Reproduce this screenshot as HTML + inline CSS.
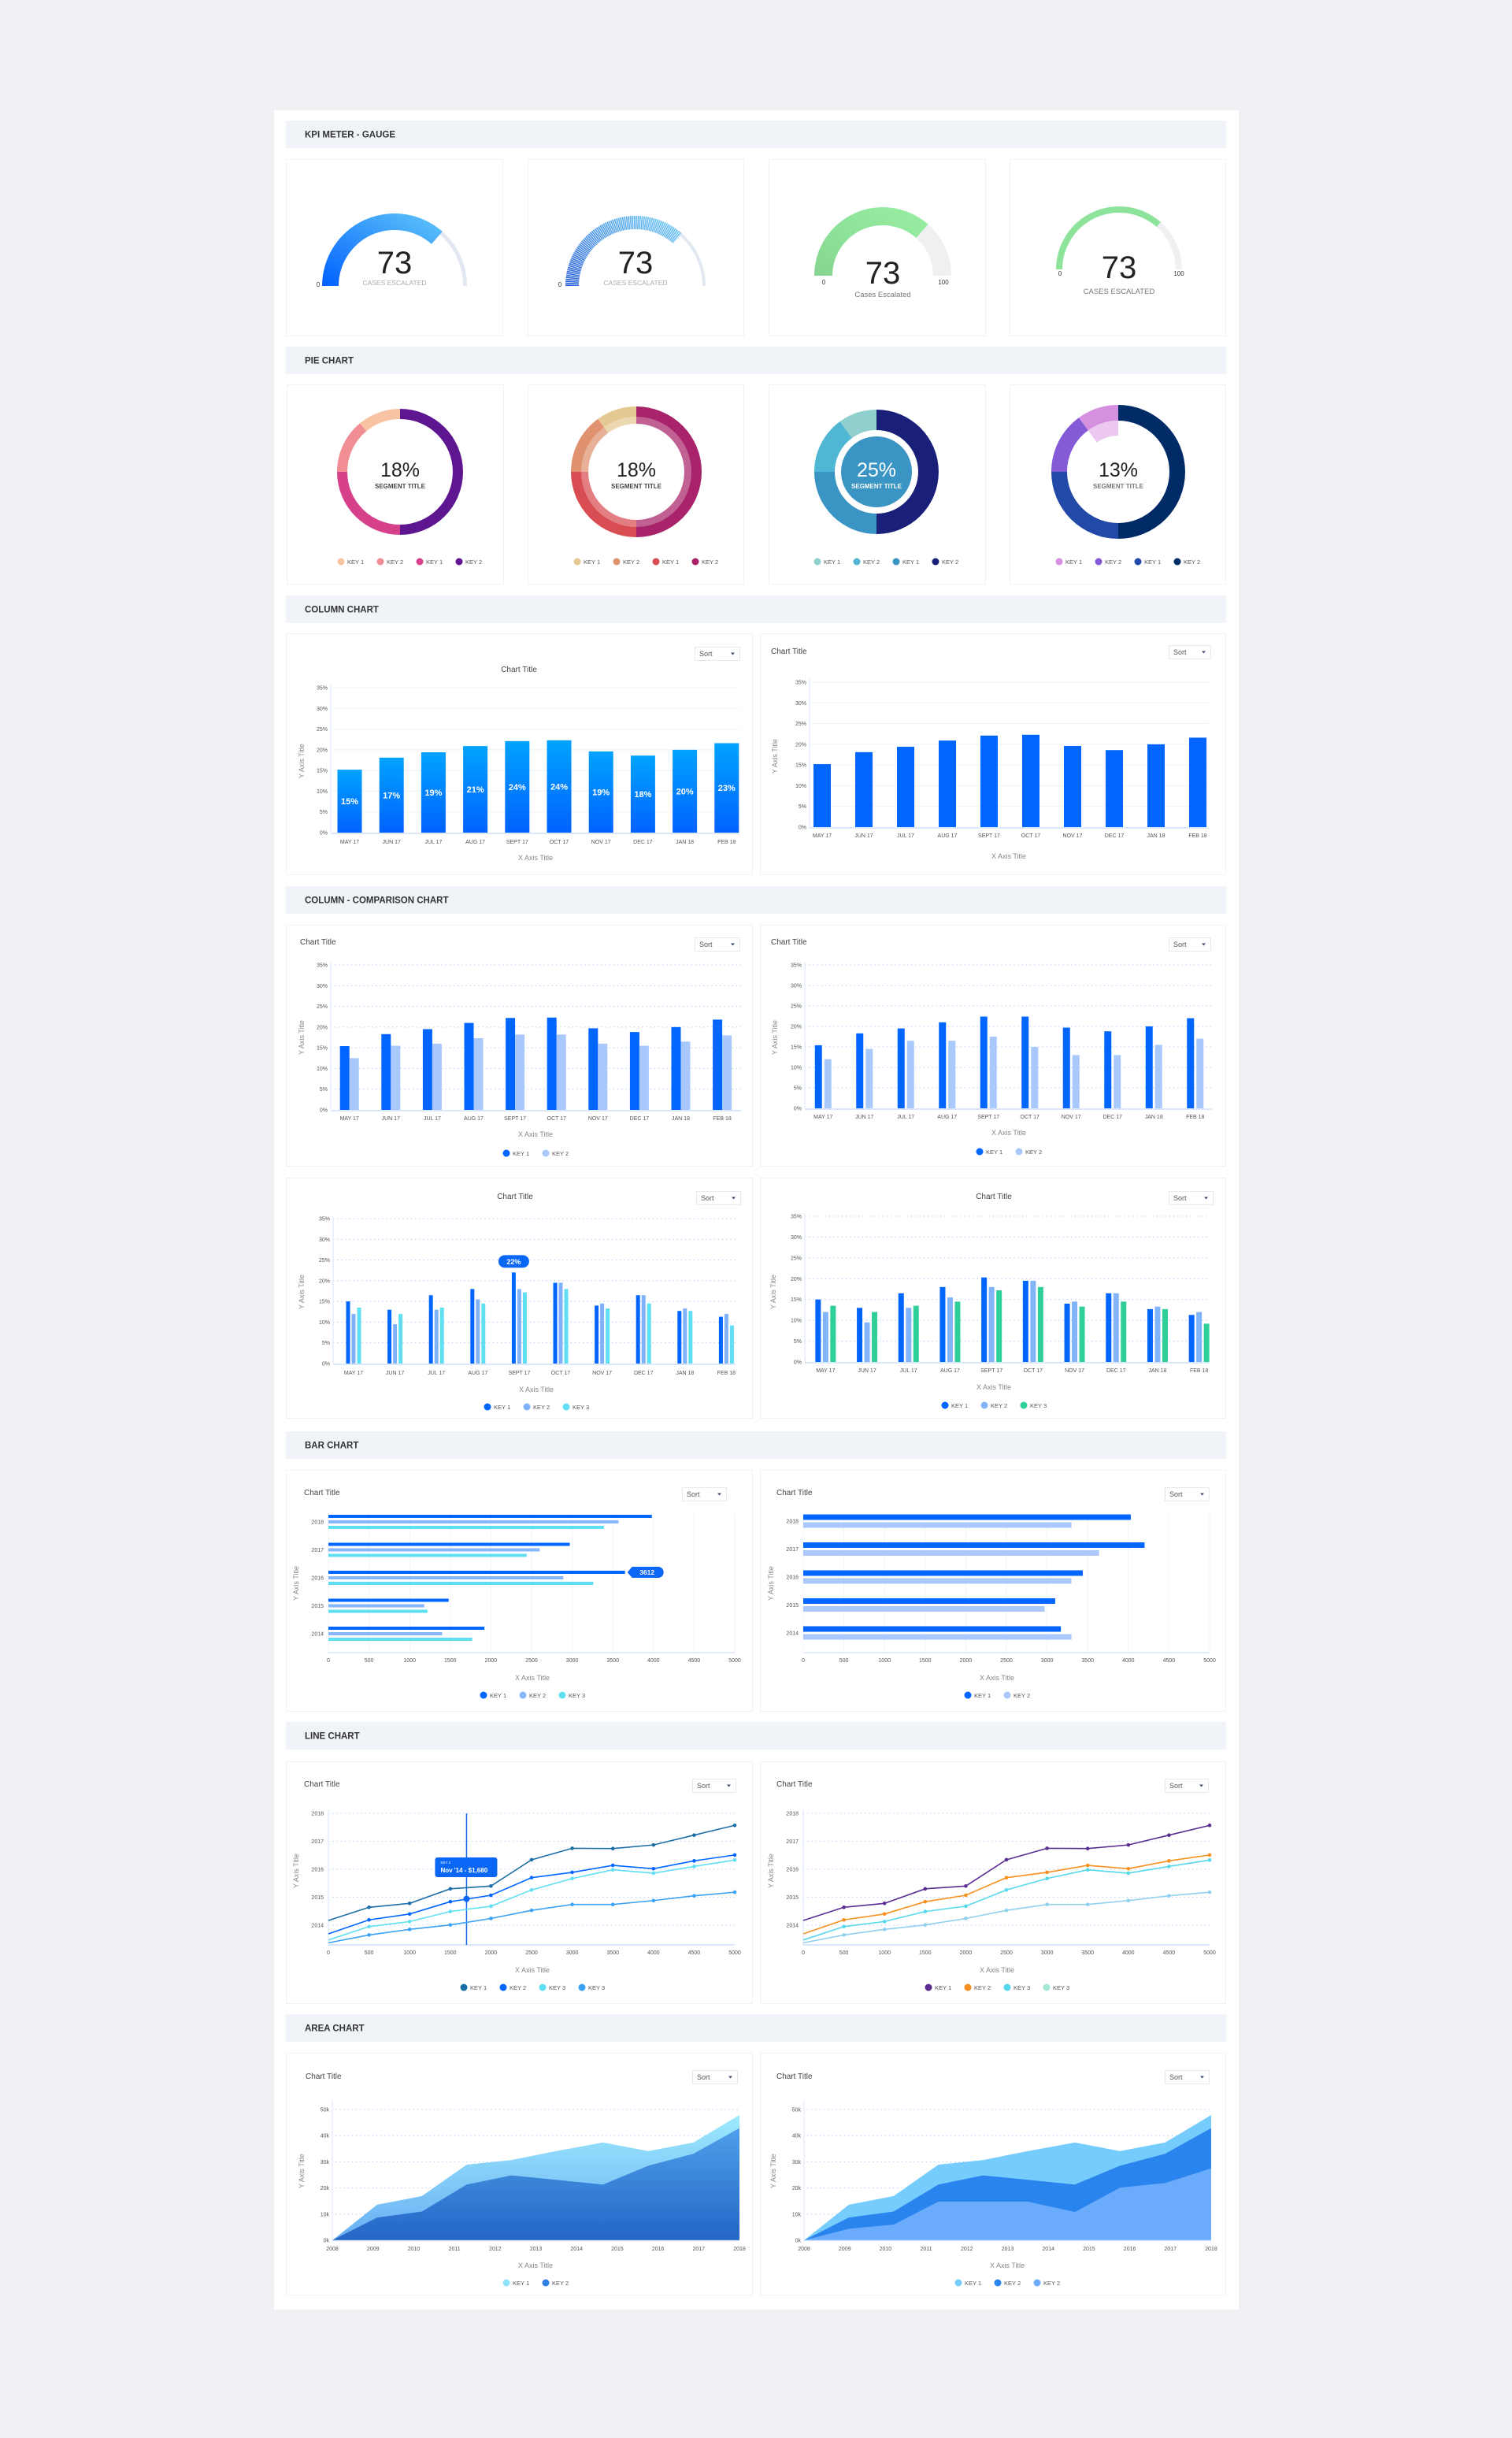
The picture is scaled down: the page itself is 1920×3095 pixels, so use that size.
<!DOCTYPE html>
<html><head><meta charset="utf-8"><title>Dashboard chart kit</title>
<style>
html,body{margin:0;padding:0;background:#eff1f5;}
svg{display:block;font-family:"Liberation Sans",sans-serif;}
</style></head>
<body>
<svg id="page" width="1920" height="3095" viewBox="0 0 1920 3095" xmlns="http://www.w3.org/2000/svg">
<defs>
<linearGradient id="gCol" x1="0" y1="0" x2="0" y2="1"><stop offset="0" stop-color="#00a3ff"/><stop offset="1" stop-color="#0062ff"/></linearGradient>
<linearGradient id="gG1" x1="0" y1="1" x2="1" y2="0"><stop offset="0" stop-color="#0060ff"/><stop offset="1" stop-color="#62c8f8"/></linearGradient>
<linearGradient id="gG2" x1="0" y1="1" x2="1" y2="0"><stop offset="0" stop-color="#2a62d6"/><stop offset="1" stop-color="#70c9f6"/></linearGradient>
<linearGradient id="gGreen" x1="0" y1="1" x2="1" y2="0"><stop offset="0" stop-color="#86d590"/><stop offset="1" stop-color="#98f0a3"/></linearGradient>
<linearGradient id="gA1" x1="0" y1="0" x2="0" y2="1"><stop offset="0" stop-color="#9deafd"/><stop offset="1" stop-color="#68aef3"/></linearGradient>
<linearGradient id="gA2" x1="0" y1="0" x2="0" y2="1"><stop offset="0" stop-color="#4e9fe9"/><stop offset="1" stop-color="#2466c6"/></linearGradient>
</defs>
<rect x="0" y="0" width="1920" height="3095" fill="#eff1f5"/>
<rect x="348" y="140" width="1225" height="2792" fill="#ffffff"/>
</svg>
<script>
const months = ['MAY 17','JUN 17','JUL 17','AUG 17','SEPT 17','OCT 17','NOV 17','DEC 17','JAN 18','FEB 18'];
const pctTicks = ['0%','5%','10%','15%','20%','25%','30%','35%'];
const colValues = [15.2,18.1,19.4,20.9,22.1,22.3,19.6,18.6,20.0,21.6];
const colLabels = ['15%','17%','19%','21%','24%','24%','19%','18%','20%','23%'];
const cmpA1 = [15.4,18.3,19.5,21.0,22.2,22.3,19.7,18.8,20.0,21.8];
const cmpA2 = [12.5,15.5,16.0,17.3,18.2,18.2,16.0,15.5,16.5,18.0];
const cmpB1 = [15.4,18.3,19.5,21.0,22.4,22.4,19.7,18.8,20.0,22.0];
const cmpB2 = [12.0,14.5,16.5,16.5,17.5,15.0,13.0,13.0,15.5,17.0];
const cmpC1 = [15.0,13.0,16.5,18.0,22.0,19.5,14.0,16.5,12.7,11.3];
const cmpC2 = [12.0,9.5,13.0,15.5,18.0,19.5,14.5,16.5,13.3,12.0];
const cmpC3 = [13.5,12.0,13.5,14.5,17.2,18.0,13.3,14.5,12.7,9.2];
const cmpD1 = [15.0,13.0,16.5,18.0,20.3,19.5,14.0,16.5,12.7,11.3];
const barYears = ['2018','2017','2016','2015','2014'];
const xTicks = ['0','500','1000','1500','2000','2500','3000','3500','4000','4500','5000'];
const barL1 = [3980,2970,3650,1480,1920];
const barL2 = [3570,2600,2890,1180,1400];
const barL3 = [3390,2440,3260,1220,1770];
const barR1 = [4030,4200,3440,3100,3170];
const barR2 = [3300,3640,3300,2970,3300];
const lineX = [0,500,1000,1500,2000,2500,3000,3500,4000,4500,5000];
const yearTicks = ['2014','2015','2016','2017','2018'];
const line1 = [2014.17,2014.64,2014.78,2015.30,2015.40,2016.34,2016.75,2016.74,2016.87,2017.22,2017.57];
const line2 = [2013.69,2014.19,2014.40,2014.84,2015.07,2015.70,2015.89,2016.14,2016.02,2016.30,2016.51];
const line3 = [2013.47,2013.95,2014.13,2014.49,2014.68,2015.26,2015.67,2015.98,2015.86,2016.10,2016.33];
const line4 = [2013.37,2013.65,2013.85,2014.01,2014.24,2014.53,2014.74,2014.74,2014.88,2015.05,2015.18];
const hoverX = 1700;
const hoverY = 2014.94;
const areaYears = [2008,2009.1,2010.2,2011.3,2012.4,2013.5,2014.65,2015.76,2016.87,2018];
const areaTicksX = ['2008','2009','2010','2011','2012','2013','2014','2015','2016','2017','2018'];
const areaTicksY = ['0k','10k','20k','30k','40k','50k'];
const areaTop = [0,13.6,16.9,28.9,30.7,34.1,37.4,34.1,37.4,47.9];
const areaMid = [0,8.7,11.0,21.3,24.8,23.1,21.3,28.5,33.1,42.9];
const areaLow = [0,4.4,6.0,14.8,14.8,14.8,10.8,20.1,21.9,27.5];
const gaugeValue = 73;
const gaugeMax = 100;
const pie1 = [11,14,25,50];
const pie2 = [10,15,25,50];
const pie3 = [10,15,25,50];
const pie4 = [10,15,25,50];

const NS='http://www.w3.org/2000/svg';
const root=document.getElementById('page');
function mk(tag,attrs,parent,txt){const e=document.createElementNS(NS,tag);for(const k in attrs)e.setAttribute(k,attrs[k]);if(txt!==undefined)e.textContent=txt;(parent||root).appendChild(e);return e;}

const sectionTitles=['KPI METER - GAUGE','PIE CHART','COLUMN CHART','COLUMN - COMPARISON CHART','BAR CHART','LINE CHART','AREA CHART'];
const sectionTops=[153,440,756,1125,1817,2186,2557];
sectionTitles.forEach((s,i)=>{
  const r=mk('rect',{x:363,y:sectionTops[i],width:1194,height:35,fill:'#f0f3f8'});
  
  
  const t=mk('text',{x:387,y:sectionTops[i]+21.5,'font-size':11.5,'font-weight':'bold',fill:'#333'},null,s);
  
  
});
function card(x0,y0,x1,y1){
  const r=mk('rect',{x:x0+0.5,y:y0+0.5,width:x1-x0,height:y1-y0,fill:'#fff',stroke:'#f1f2f5','stroke-width':1});
  
  
}
function sortBox(x,y,w){
  const g=mk('g',{});
  
  
  mk('rect',{x:x+0.5,y:y+0.5,width:w,height:17,fill:'#fff',stroke:'#e6e9ef'},g);
  mk('text',{x:x+6,y:y+12,'font-size':9,fill:'#555'},g,'Sort');
  mk('path',{d:`M${x+w-11} ${y+7.5}h5l-2.5 3z`,fill:'#3a4a6b'},g);
}
function chartTitle(x,y,anchor){
  const t=mk('text',{x:x,y:y,'font-size':10,fill:'#444','text-anchor':anchor},null,'Chart Title');
  
  
}
function axisTitles(xx,xy,yx,yy){
  const a=mk('text',{x:xx,y:xy,'font-size':9,fill:'#888','text-anchor':'middle'},null,'X Axis Title');
  
  
  const b=mk('text',{x:yx,y:yy,'font-size':9,fill:'#888','text-anchor':'middle',transform:`rotate(-90 ${yx} ${yy})`},null,'Y Axis Title');
  
  
}
function legend(cx,y,labels,colors){
  const n=labels.length, step=50, sx=cx-(n-1)*step/2-12;
  labels.forEach((l,i)=>{
    const c=mk('circle',{cx:sx+i*step,cy:y,r:4.5,fill:colors[i]});
    
    
    const t=mk('text',{x:sx+i*step+8,y:y+3,'font-size':7.5,fill:'#555'},null,l);
    
    
  });
}

[[363,202,638,426],[670,202,944,426],[976,202,1251,426],[1282,202,1556,426],
 [364,488,639,741],[670,488,944,741],[976,488,1251,741],[1282,488,1556,741],
 [363,804,955,1110],[965,804,1556,1110],[363,1174,955,1480],[965,1174,1556,1480],
 [363,1495,955,1800],[965,1495,1556,1800],[363,1866,955,2172],[965,1866,1556,2172],
 [363,2236,955,2543],[965,2236,1556,2543],[363,2606,955,2913],[965,2606,1556,2913]].forEach(c=>card(...c));

function arcBand(cx,cy,ri,ro,f0,f1){
  const p=(r,f)=>{const a=Math.PI*(1-f);return [cx+r*Math.cos(a),cy-r*Math.sin(a)];};
  const a=p(ro,f0),b=p(ro,f1),c=p(ri,f1),d=p(ri,f0);
  const lg=(f1-f0)>1?1:0;
  return `M${a[0]} ${a[1]}A${ro} ${ro} 0 ${lg} 1 ${b[0]} ${b[1]}L${c[0]} ${c[1]}A${ri} ${ri} 0 ${lg} 0 ${d[0]} ${d[1]}Z`;
}
function arcLine(cx,cy,r,f0,f1){
  const p=f=>{const a=Math.PI*(1-f);return [cx+r*Math.cos(a),cy-r*Math.sin(a)];};
  const a=p(f0),b=p(f1);
  return `M${a[0]} ${a[1]}A${r} ${r} 0 0 1 ${b[0]} ${b[1]}`;
}
const gf=gaugeValue/gaugeMax;
function gaugeText(cx,numY,lblY,lbl,lblSize,lblCol){
  const t=mk('text',{x:cx,y:numY,'font-size':40,fill:'#222','text-anchor':'middle'},null,String(gaugeValue));
  
  
  const l=mk('text',{x:cx,y:lblY,'font-size':lblSize,fill:lblCol,'text-anchor':'middle'},null,lbl);
  
  
}
function gMin(x,y,txt){
  const t=mk('text',{x:x,y:y,'font-size':8,fill:'#333','text-anchor':'middle'},null,txt);
  
  
}
let e=mk('path',{d:arcBand(501,363,87,92,gf,1),fill:'#e2e8f1'});


e=mk('path',{d:arcBand(501,363,71,92,0,gf),fill:'url(#gG1)'});


gaugeText(501,347,362,'CASES ESCALATED',8.5,'#aaa');gMin(404,364,'0');
e=mk('path',{d:arcBand(807,363,85,89,gf,1),fill:'#e2e8f1'});


e=mk('path',{d:arcLine(807,363,80.5,0,gf),fill:'none',stroke:'url(#gG2)','stroke-width':17,'stroke-dasharray':'1.6 0.7'});


gaugeText(807,347,362,'CASES ESCALATED',8.5,'#aaa');gMin(711,364,'0');
e=mk('path',{d:arcBand(1121,350,64,87,gf,1),fill:'#f0f0f2'});


e=mk('path',{d:arcBand(1121,350,64,87,0,gf),fill:'url(#gGreen)'});


gaugeText(1121,360,377,'Cases Escalated',9.5,'#777');gMin(1046,361,'0');gMin(1198,361,'100');
e=mk('path',{d:arcBand(1421,342,72,80,gf,1),fill:'#f0f0f2'});


e=mk('path',{d:arcBand(1421,342,72,80,0,gf),fill:'#8ee39a'});


gaugeText(1421,353,373,'CASES ESCALATED',9.5,'#777');gMin(1346,350,'0');gMin(1497,350,'100');

function slice(cx,cy,ri,ro,a0,a1){
  const p=(r,a)=>{const t=(a-90)*Math.PI/180;return [cx+r*Math.cos(t),cy+r*Math.sin(t)];};
  const s=p(ro,a0),f=p(ro,a1),g=p(ri,a1),h=p(ri,a0);const lg=(a1-a0)>180?1:0;
  return `M${s[0]} ${s[1]}A${ro} ${ro} 0 ${lg} 1 ${f[0]} ${f[1]}L${g[0]} ${g[1]}A${ri} ${ri} 0 ${lg} 0 ${h[0]} ${h[1]}Z`;
}
function pie(vals,colors,cx,cy,ri,ro,pct,txtCol,subCol){
  let end=360;
  vals.forEach((v,i)=>{
    const start=end-v/100*360;
    const s=mk('path',{d:slice(cx,cy,ri,ro,start,end),fill:colors[i]});
    
    
    end=start;
  });
  const t=mk('text',{x:cx,y:cy+6,'font-size':25,fill:txtCol,'text-anchor':'middle'},null,pct);
  
  
  const u=mk('text',{x:cx,y:cy+21,'font-size':8,'font-weight':'bold',fill:subCol,'text-anchor':'middle'},null,'SEGMENT TITLE');
  
  
  legend(cx+12,713,['KEY 1','KEY 2','KEY 1','KEY 2'],colors);
}
pie(pie1,['#f8c3a2','#f08e93','#d7418b','#5e1690'],508,599,67,80,'18%','#222','#444');
pie(pie2,['#e4c993','#e0926f','#d84d52','#a8236a'],808,599,61,83,'18%','#222','#444');
e=mk('path',{d:slice(808,599,61,70,0,359.99),fill:'#fff','fill-opacity':0.28});


e=mk('circle',{cx:1113,cy:599,r:45,fill:'#3a94c4'});


pie(pie3,['#8fd0cf','#4fb7d4','#3a94c4','#1a1f7a'],1113,599,53,79,'25%','#fff','#fff');
pie(pie4,['#d591e0','#845ad6','#2349a8','#002b66'],1420,599,65,85,'13%','#222','#777');
e=mk('path',{d:slice(1420,599,46,65,324,360),fill:'#ecc8f1'});



function vAxis(o){
  const sy=v=>o.y0-v/35*(o.y0-o.yTop);
  pctTicks.forEach((t,i)=>{
    const y=sy(i*5);
    if(i>0){
      const l=mk('line',{x1:o.ax,x2:o.gx,y1:y,y2:y,stroke:o.dotted?'#a9c7f7':'#edf3fc','stroke-width':o.dotted?1.1:1,'stroke-dasharray':o.dotted?'1.2 4':'none'});
      
      
    }
    const tx=mk('text',{x:o.ax-4,y:y+2.5,'font-size':7,fill:'#555','text-anchor':'end'},null,t);
    
    
  });
  let a=mk('line',{x1:o.ax,x2:o.ax,y1:o.yTop-4,y2:o.y0,stroke:'#e6eefb','stroke-width':1.5});
  
  
  a=mk('line',{x1:o.ax,x2:o.gx,y1:o.y0+1,y2:o.y0+1,stroke:'#dbe7fb','stroke-width':2});
  
  
  months.forEach((m,i)=>{
    const t=mk('text',{x:o.x0+o.band*(i+0.5),y:o.ly,'font-size':7,fill:'#555','text-anchor':'middle'},null,m);
    
    
  });
  return sy;
}
function columns(o,sy,series,colors,w,offs){
  series.forEach((vals,s)=>{
    vals.forEach((v,i)=>{
      const cx=o.x0+o.band*(i+0.5)+offs[s];
      const r=mk('rect',{x:cx-w/2,y:sy(v),width:w,height:o.y0-sy(v),fill:colors[s]});
      
      
    });
  });
}
let o={ax:420,gx:939,y0:1057,yTop:873,x0:417.4,band:53.2,ly:1071};
let sy=vAxis(o);
columns(o,sy,[colValues],['url(#gCol)'],31,[0]);
colValues.forEach((v,i)=>{
  const t=mk('text',{x:o.x0+o.band*(i+0.5),y:(sy(v)+o.y0)/2+4,'font-size':11,'font-weight':'bold',fill:'#fff','text-anchor':'middle'},null,colLabels[i]);
  
  
});
chartTitle(659,853,'middle');sortBox(882,821,57);axisTitles(680,1092,386,966);
o={ax:1028,gx:1535,y0:1050,yTop:866,x0:1017.5,band:53,ly:1063};
sy=vAxis(o);
columns(o,sy,[colValues],['#0066ff'],22,[0]);
chartTitle(979,830,'start');sortBox(1484,819,53);axisTitles(1281,1090,987,960);
o={ax:420,gx:941,y0:1409,yTop:1225,x0:417.4,band:52.6,ly:1422,dotted:true};
sy=vAxis(o);
columns(o,sy,[cmpA1,cmpA2],['#0066ff','#a9c8fb'],12,[-6,6]);
chartTitle(381,1199,'start');sortBox(882,1190,57);axisTitles(680,1443,386,1317);
legend(680,1464,['KEY 1','KEY 2'],['#0066ff','#a9c8fb']);
o={ax:1022,gx:1539,y0:1407,yTop:1225,x0:1019,band:52.5,ly:1420,dotted:true};
sy=vAxis(o);
columns(o,sy,[cmpB1,cmpB2],['#0066ff','#a9c8fb'],9,[-6,6]);
chartTitle(979,1199,'start');sortBox(1484,1190,53);axisTitles(1281,1441,987,1317);
legend(1281,1462,['KEY 1','KEY 2'],['#0066ff','#a9c8fb']);
o={ax:423,gx:934,y0:1731,yTop:1547,x0:422.7,band:52.6,ly:1745,dotted:true};
sy=vAxis(o);
columns(o,sy,[cmpC1,cmpC2,cmpC3],['#0066ff','#7fb2fb','#5fdff1'],5,[-7,0,7]);
chartTitle(654,1522,'middle');sortBox(884,1512,56);axisTitles(681,1767,386,1640);
legend(681,1786,['KEY 1','KEY 2','KEY 3'],['#0066ff','#7fb2fb','#5fdff1']);
{
  const cx=o.x0+o.band*4.5-7, y=sy(cmpC1[4]);
  const p=mk('rect',{x:cx-19.5,y:y-22,width:39,height:16,rx:8,fill:'#0a66f5'});
  
  
  const t=mk('text',{x:cx,y:y-10.5,'font-size':9,'font-weight':'bold',fill:'#fff','text-anchor':'middle'},null,'22%');
  
  
}
o={ax:1022,gx:1536,y0:1729,yTop:1544,x0:1022,band:52.7,ly:1742,dotted:true};
sy=vAxis(o);
columns(o,sy,[cmpD1,cmpC2,cmpC3],['#0066ff','#82b4fa','#2fcf98'],7,[-9.5,0,9.5]);
chartTitle(1262,1522,'middle');sortBox(1484,1512,56);axisTitles(1262,1764,985,1640);
legend(1262,1784,['KEY 1','KEY 2','KEY 3'],['#0066ff','#82b4fa','#2fcf98']);

function hBar(o,series,colors,h,offs){
  const sx=v=>o.x0+v/5000*(o.x1-o.x0);
  xTicks.forEach((t,i)=>{
    const x=sx(i*500);
    const l=mk('line',{x1:x,x2:x,y1:o.yTop,y2:o.yBot,stroke:'#eef3fc','stroke-width':1});
    
    
    const tx=mk('text',{x:x,y:o.yBot+12,'font-size':7,fill:'#555','text-anchor':'middle'},null,t);
    
    
  });
  const a=mk('line',{x1:o.x0,x2:o.x1,y1:o.yBot,y2:o.yBot,stroke:'#dbe7fb','stroke-width':1.5});
  
  
  barYears.forEach((yr,i)=>{
    const cy=o.c0+i*35.5;
    const t=mk('text',{x:o.x0-6,y:cy+2.5,'font-size':7,fill:'#555','text-anchor':'end'},null,yr);
    
    
    series.forEach((vals,s)=>{
      const r=mk('rect',{x:o.x0,y:cy+offs[s]-h/2,width:sx(vals[i])-o.x0,height:h,fill:colors[s]});
      
      
    });
  });
  return sx;
}
o={x0:417,x1:933,yTop:1921,yBot:2098,c0:1932};
let sxx=hBar(o,[barL1,barL2,barL3],['#0066ff','#86b6fb','#5fdff1'],4,[-7,0,7]);
{
  const x=sxx(barL1[2])+3, y=o.c0+2*35.5-7;
  const p=mk('path',{d:`M${x} ${y}l6 -7h33a7 7 0 0 1 0 14h-33z`,fill:'#0a66f5'});
  
  
  const t=mk('text',{x:x+25,y:y+3,'font-size':8.5,'font-weight':'bold',fill:'#fff','text-anchor':'middle'},null,'3612');
  
  
}
chartTitle(386,1898,'start');sortBox(866,1888,56);axisTitles(676,2133,379,2010);
legend(676,2152,['KEY 1','KEY 2','KEY 3'],['#0066ff','#86b6fb','#5fdff1']);
o={x0:1020,x1:1536,yTop:1921,yBot:2098,c0:1931};
hBar(o,[barR1,barR2],['#0066ff','#aac8fb'],7,[-5,5]);
chartTitle(986,1898,'start');sortBox(1479,1888,56);axisTitles(1266,2133,982,2010);
legend(1266,2152,['KEY 1','KEY 2'],['#0066ff','#aac8fb']);

function lineChart(o,series,colors,hover){
  const sx=v=>o.x0+v/5000*(o.x1-o.x0);
  const sy=v=>2444-(v-2014)*35.5;
  yearTicks.forEach(t=>{
    const y=sy(+t);
    const l=mk('line',{x1:o.x0,x2:o.x1,y1:y,y2:y,stroke:'#a9c7f7','stroke-width':1.1,'stroke-dasharray':'1.2 4'});
    
    
    const tx=mk('text',{x:o.x0-6,y:y+2.5,'font-size':7,fill:'#555','text-anchor':'end'},null,t);
    
    
  });
  xTicks.forEach((t,i)=>{
    const tx=mk('text',{x:sx(i*500),y:2481,'font-size':7,fill:'#555','text-anchor':'middle'},null,t);
    
    
  });
  let a=mk('line',{x1:o.x0,x2:o.x0,y1:2298,y2:2469,stroke:'#e6eefb','stroke-width':1.5});
  
  
  a=mk('line',{x1:o.x0,x2:o.x1,y1:2469,y2:2469,stroke:'#dbe7fb','stroke-width':2});
  
  
  if(hover){
    const c=mk('line',{x1:sx(hoverX),x2:sx(hoverX),y1:2302,y2:2469,stroke:'#1466e8','stroke-width':1.5});
    
    
  }
  series.forEach((vals,s)=>{
    const d=vals.map((v,i)=>(i?'L':'M')+sx(lineX[i])+' '+sy(v)).join('');
    const p=mk('path',{d:d,fill:'none',stroke:colors[s],'stroke-width':1.6});
    
    
    vals.forEach((v,i)=>{
      if(i===0)return;
      const c=mk('circle',{cx:sx(lineX[i]),cy:sy(v),r:2.3,fill:colors[s]});
      
      
    });
  });
  if(hover){
    const c=mk('circle',{cx:sx(hoverX),cy:sy(hoverY),r:4,fill:'#0a66f5'});
    
    
    const bx=sx(hoverX)-40;
    const r=mk('rect',{x:bx,y:2358,width:79,height:25,rx:3,fill:'#0a66f5'});
    
    
    const t1=mk('text',{x:bx+7,y:2366,'font-size':4.5,fill:'#fff'},null,'KEY 2');
    
    
    const t2=mk('text',{x:bx+7,y:2377,'font-size':8,'font-weight':'bold',fill:'#fff'},null,"Nov '14 - $1,680");
    
    
  }
}
lineChart({x0:417,x1:933},[line1,line2,line3,line4],['#1c6ea6','#0066ff','#5fdff1','#3aa2f4'],true);
chartTitle(386,2268,'start');sortBox(879,2258,55);axisTitles(676,2504,379,2375);
legend(676,2523,['KEY 1','KEY 2','KEY 3','KEY 3'],['#1c6ea6','#0066ff','#5fdff1','#3aa2f4']);
lineChart({x0:1020,x1:1536},[line1,line2,line3,line4],['#5a2d91','#f7901e','#55d8ec','#8fd0ee'],false);
chartTitle(986,2268,'start');sortBox(1479,2258,55);axisTitles(1266,2504,982,2375);
legend(1266,2523,['KEY 1','KEY 2','KEY 3','KEY 3'],['#5a2d91','#f7901e','#55d8ec','#a6e6d6']);

function areaChart(o,layers,fills){
  const sx=v=>o.x0+(v-2008)/10*(o.x1-o.x0);
  const sy=v=>2844-v/50*(2844-2678);
  areaTicksY.forEach((t,i)=>{
    const y=sy(i*10);
    if(i>0){
      const l=mk('line',{x1:o.x0+4,x2:o.x1,y1:y,y2:y,stroke:'#a9c7f7','stroke-width':1.1,'stroke-dasharray':'1.2 4'});
      
      
    }
    const tx=mk('text',{x:o.x0-4,y:y+2.5,'font-size':7,fill:'#555','text-anchor':'end'},null,t);
    
    
  });
  areaTicksX.forEach((t,i)=>{
    const tx=mk('text',{x:sx(2008+i),y:2857,'font-size':7,fill:'#555','text-anchor':'middle'},null,t);
    
    
  });
  const a=mk('line',{x1:o.x0,x2:o.x0,y1:2666,y2:2844,stroke:'#e6eefb','stroke-width':1.5});
  
  
  layers.forEach((vals,s)=>{
    const pts=vals.map((v,i)=>sx(areaYears[i])+','+sy(v));
    pts.push(sx(areaYears[areaYears.length-1])+','+sy(0));
    pts.push(sx(areaYears[0])+','+sy(0));
    const p=mk('polygon',{points:pts.join(' '),fill:fills[s]});
    
    
  });
  const b=mk('line',{x1:o.x0,x2:o.x1,y1:2844.5,y2:2844.5,stroke:'#dbe7fb','stroke-width':1.5});
  
  
}
areaChart({x0:422,x1:939},[areaTop,areaMid],['url(#gA1)','url(#gA2)']);
chartTitle(388,2639,'start');sortBox(879,2628,57);axisTitles(680,2879,386,2756);
legend(680,2898,['KEY 1','KEY 2'],['#8ee3fb','#2f80e4']);
areaChart({x0:1021,x1:1538},[areaTop,areaMid,areaLow],['#76cdfd','#2a84ee','#6aabfc']);
chartTitle(986,2639,'start');sortBox(1479,2628,56);axisTitles(1279,2879,985,2756);
legend(1279,2898,['KEY 1','KEY 2','KEY 2'],['#76cdfd','#2a84ee','#6aabfc']);
</script>
</body></html>
